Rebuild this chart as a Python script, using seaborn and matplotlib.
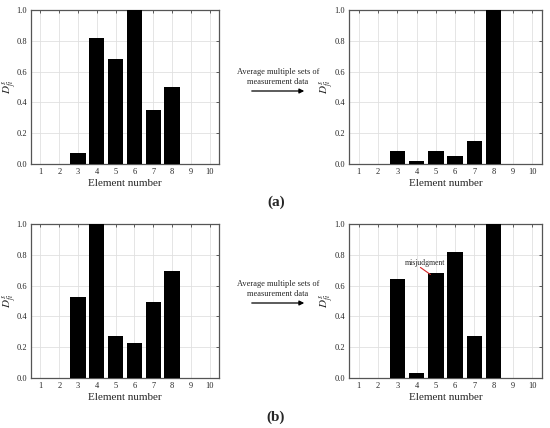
import numpy as np
import pandas as pd
import matplotlib
matplotlib.use('Agg')
import matplotlib.pyplot as plt
import seaborn as sns

elements = [1, 2, 3, 4, 5, 6, 7, 8, 9, 10]
a_single = [0, 0, 0.07, 0.82, 0.68, 1.0, 0.35, 0.50, 0, 0]
a_avg = [0, 0, 0.085, 0.02, 0.085, 0.055, 0.15, 1.0, 0, 0]
b_single = [0, 0, 0.525, 1.0, 0.275, 0.225, 0.495, 0.695, 0, 0]
b_avg = [0, 0, 0.64, 0.035, 0.68, 0.815, 0.275, 1.0, 0, 0]
yticks = [0.0, 0.2, 0.4, 0.6, 0.8, 1.0]

sns.set_style('white')
plt.rcParams['font.family'] = ['Liberation Serif', 'DejaVu Serif']
plt.rcParams['mathtext.fontset'] = 'stix'

fig = plt.figure(figsize=(5.5, 4.28), dpi=100)

W, H = 550, 428
def box(l, t, r, b):
    return [l / W, 1 - b / H, (r - l) / W, (b - t) / H]

panels = [
    (box(31, 10, 219, 164), a_single, -12 / 188),
    (box(349, 10, 542, 164), a_avg, -13 / 193),
    (box(31, 224, 219, 378), b_single, -12 / 188),
    (box(349, 224, 542, 378), b_avg, -13 / 193),
]

axes = []
for pos, vals, lab_x in panels:
    ax = fig.add_axes(pos)
    df = pd.DataFrame({'Element': elements, 'D': vals})
    sns.barplot(data=df, x='Element', y='D', color='black', width=0.8,
                linewidth=0, saturation=1, ax=ax, zorder=3)
    ax.set_xlim(-0.5, 9.5)
    ax.set_ylim(0, 1.0)
    ax.set_yticks(yticks)
    ax.set_yticklabels([f'{v:.1f}' for v in yticks])
    ax.grid(True, color='#e0e0e0', linewidth=0.6, zorder=0)
    ax.set_axisbelow(True)
    ax.tick_params(direction='in', length=2.5, width=0.6, labelsize=6,
                   top=True, right=True, color='#444444', pad=3)
    for s in ax.spines.values():
        s.set_color('#555555')
        s.set_linewidth(0.9)
    ax.set_xlabel('Element number', fontsize=8, labelpad=2)
    ax.set_ylabel(r'$D^{s}_{fi}$', fontsize=8)
    ax.yaxis.set_label_coords(lab_x, 0.5)
    axes.append(ax)

# arrows and captions between panels
for ty, ay in [(77, 91), (289, 303)]:
    fig.text(278 / W, 1 - ty / H, 'Average multiple sets of\nmeasurement data',
             ha='center', va='center', fontsize=6, linespacing=1.35)
    fig.add_artist(matplotlib.patches.FancyArrowPatch(
        (249 / W, 1 - ay / H), (307 / W, 1 - ay / H), transform=fig.transFigure,
        arrowstyle='-|>', mutation_scale=7, color='black', linewidth=0.9))

fig.text(276 / W, 1 - 202 / H, '(a)', ha='center', va='center',
         fontsize=11, fontweight='bold')
fig.text(276 / W, 1 - 417 / H, '(b)', ha='center', va='center',
         fontsize=11, fontweight='bold')

axes[3].text(3.45, 0.748, 'misjudgment', fontsize=5.5, ha='center', va='center')
axes[3].annotate('', xy=(3.72, 0.672), xytext=(3.2, 0.718),
                 arrowprops=dict(arrowstyle='-', color='#d62728', lw=0.8,
                                 shrinkA=0, shrinkB=0))

fig.savefig('out.png', dpi=100)
